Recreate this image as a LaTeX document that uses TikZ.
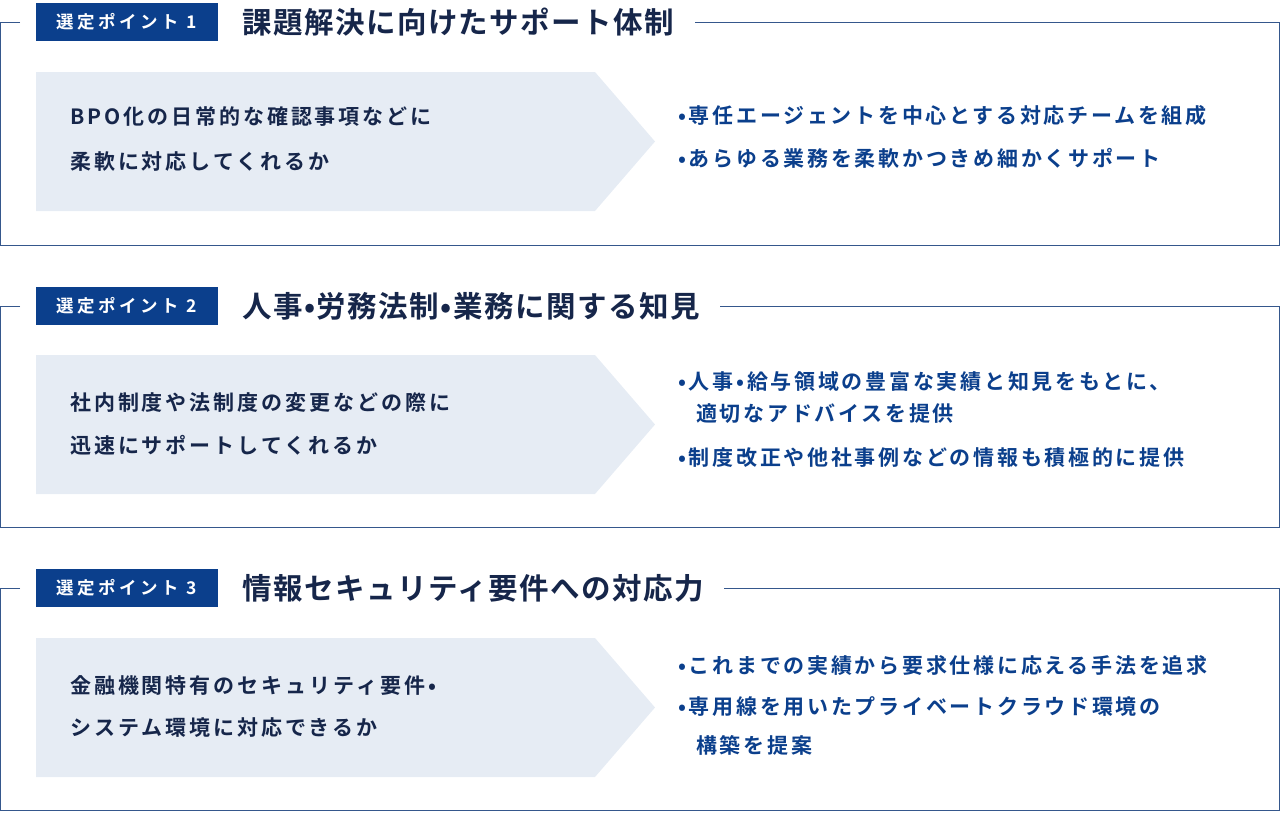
\documentclass[tikz,border=0pt]{standalone}
\usepackage{fontspec}
\setmainfont{Noto Sans CJK JP}[BoldFont=* Bold]
\newfontfamily\fq{Noto Sans CJK JP}[BoldFont=* Bold,LetterSpace=14]
\newfontfamily\fb{Noto Sans CJK JP}[BoldFont=* Bold,LetterSpace=13]
\newfontfamily\ft{Noto Sans CJK JP}[BoldFont=* Bold,LetterSpace=5]
\newfontfamily\fl{Noto Sans CJK JP}[BoldFont=* Bold,LetterSpace=20]
\begin{document}
\begin{tikzpicture}[x=1pt,y=-1pt,
  frame/.style={draw=frameblue,line width=1pt},
  lab/.style={fill=navy,text=white,font=\fl\bfseries\fontsize{17.5}{18}\selectfont,minimum width=182pt,minimum height=38pt,inner sep=0pt},
  ttl/.style={anchor=west,text=titlec,font=\ft\bfseries\fontsize{29.5}{30}\selectfont,inner sep=0pt},
  q/.style={anchor=west,text=titlec,font=\fq\bfseries\fontsize{21}{22}\selectfont,inner sep=0pt},
  b/.style={anchor=west,text=navy,font=\fb\bfseries\fontsize{21}{22}\selectfont,inner sep=0pt},
  arr/.style={fill=lightbg}]
\definecolor{navy}{HTML}{0B3F8C}
\definecolor{frameblue}{HTML}{35578C}
\definecolor{titlec}{HTML}{16264A}
\definecolor{lightbg}{HTML}{E6ECF4}
\useasboundingbox (0,0) rectangle (1280,812);
% section 1
\node[lab] (l1) at (127,22) {選定ポイント 1};
\node[ttl] (t1) at (242,22) {課題解決に向けたサポート体制};
\draw[frame] (20,22) -- (0.5,22) -- (0.5,245) -- (1279.5,245) -- (1279.5,22) -- ([xshift=20pt]t1.east);
\fill[arr] (36,72) -- (595,72) -- (655,141.5) -- (595,211) -- (36,211) -- cycle;
\node[q] (q1a) at (70,117) {BPO化の日常的な確認事項などに};
\node[q] (q1b) at (70,162) {柔軟に対応してくれるか};
\node[b] (b1a) at (678,116) {•専任エージェントを中心とする対応チームを組成};
\node[b] (b1b) at (678,158) {•あらゆる業務を柔軟かつきめ細かくサポート};
% section 2
\node[lab] (l2) at (127,306) {選定ポイント 2};
\node[ttl] (t2) at (242,306) {人事•労務法制•業務に関する知見};
\draw[frame] (20,306) -- (0.5,306) -- (0.5,527) -- (1279.5,527) -- (1279.5,306) -- ([xshift=20pt]t2.east);
\fill[arr] (36,355) -- (595,355) -- (655,424.5) -- (595,494) -- (36,494) -- cycle;
\node[q] (q2a) at (70,403) {社内制度や法制度の変更などの際に};
\node[q] (q2b) at (70,445) {迅速にサポートしてくれるか};
\node[b] (b2a) at (678,382) {•人事•給与領域の豊富な実績と知見をもとに、};
\node[b] (b2b) at (696,414) {適切なアドバイスを提供};
\node[b] (b2c) at (678,458) {•制度改正や他社事例などの情報も積極的に提供};
% section 3
\node[lab] (l3) at (127,588) {選定ポイント 3};
\node[ttl] (t3) at (242,588) {情報セキュリティ要件への対応力};
\draw[frame] (20,588) -- (0.5,588) -- (0.5,810) -- (1279.5,810) -- (1279.5,588) -- ([xshift=20pt]t3.east);
\fill[arr] (36,638) -- (595,638) -- (655,707.5) -- (595,777) -- (36,777) -- cycle;
\node[q] (q3a) at (70,686) {金融機関特有のセキュリティ要件•};
\node[q] (q3b) at (70,728) {システム環境に対応できるか};
\node[b] (b3a) at (678,665) {•これまでの実績から要求仕様に応える手法を追求};
\node[b] (b3b) at (678,707) {•専用線を用いたプライベートクラウド環境の};
\node[b] (b3c) at (696,745) {構築を提案};
\end{tikzpicture}
\end{document}
